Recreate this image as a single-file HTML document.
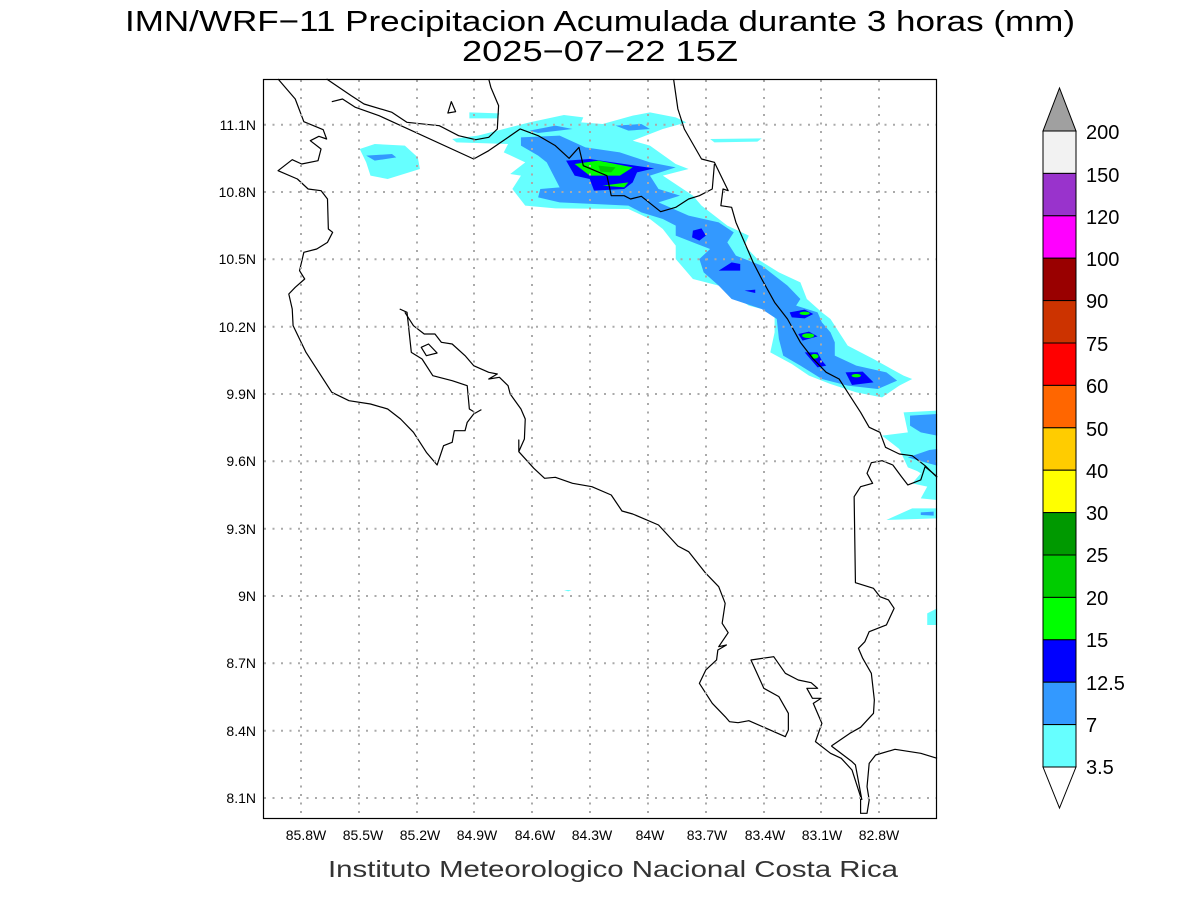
<!DOCTYPE html>
<html><head><meta charset="utf-8"><style>
html,body{margin:0;padding:0;background:#fff;}
svg{display:block;}
text{font-family:"Liberation Sans",sans-serif;}
</style></head><body>
<svg width="1200" height="900" viewBox="0 0 1200 900" xmlns="http://www.w3.org/2000/svg">
<rect width="1200" height="900" fill="#fff"/>
<text x="600" y="31" font-size="29" text-anchor="middle" textLength="950" lengthAdjust="spacingAndGlyphs">IMN/WRF−11 Precipitacion Acumulada durante 3 horas (mm)</text>
<text x="600" y="61" font-size="29" text-anchor="middle" textLength="276" lengthAdjust="spacingAndGlyphs">2025−07−22 15Z</text>

<!-- map, coords from zoom frame -->
<g transform="translate(263,79) scale(0.42992,0.33333)">
 <g stroke="none">
  <!-- cyan -->
  <g fill="#66ffff">
   <path d="M440,180 L500,170 560,150 620,130 700,108 745,115 740,130 790,135 860,110 900,100 960,115 985,130 930,150 860,185 900,200 960,255 990,270 930,290 1000,350 1020,380 1080,440 1130,470 1120,500 1150,540 1200,580 1250,610 1265,660 1300,700 1320,720 1340,760 1360,800 1420,840 1490,890 1510,900 1480,920 1440,955 1380,940 1320,915 1270,890 1230,855 1180,820 1190,760 1190,700 1130,680 1060,620 1000,600 960,540 960,500 930,450 900,420 850,390 680,388 610,380 580,330 600,290 575,285 610,250 560,220 570,195 450,190Z"/>
   <path d="M225,210 L260,195 330,200 360,235 365,270 290,300 250,290 240,250Z"/>
   <path d="M480,100 L550,103 545,118 480,118Z"/>
   <path d="M1040,180 L1160,178 1150,188 1050,190Z"/>
   <path d="M1490,1000 L1568,995 1568,1200 1500,1165 1480,1110 1440,1070 1500,1060Z"/>
   <path d="M1475,1103 L1520,1093 1568,1083 1568,1263 1530,1258 1545,1223 1510,1213 1530,1183 1500,1158 1490,1123Z"/>
   <path d="M1450,1323 L1510,1288 1568,1288 1568,1318Z"/>
   <path d="M1545,1603 L1568,1588 1568,1638 1545,1638Z"/>
   <path d="M700,1533 L718,1533 710,1537Z"/>
  </g>
  <g fill="#3399ff">
   <path d="M600,175 L690,170 750,205 830,220 900,250 960,265 900,290 920,330 970,350 920,370 990,410 1060,430 1095,460 1080,490 1100,530 1160,560 1220,620 1250,660 1240,680 1290,700 1300,730 1320,760 1330,790 1330,830 1380,860 1450,880 1475,905 1430,930 1360,920 1300,900 1250,860 1210,830 1200,780 1195,720 1160,690 1090,660 1060,620 1025,580 1015,540 1040,510 1000,490 960,470 960,440 930,420 880,400 850,380 690,370 640,355 645,330 690,325 660,250 640,230 600,200Z"/>
   <path d="M240,230 L300,225 310,235 260,245Z"/>
   <path d="M620,155 L680,140 720,150 640,162Z"/>
   <path d="M820,140 L880,135 900,150 850,155Z"/>
   <path d="M1505,1010 L1568,1005 1568,1070 1530,1060 1505,1040Z"/>
   <path d="M1500,1135 L1550,1113 1568,1110 1568,1160 1540,1150Z"/>
   <path d="M1530,1300 L1560,1298 1560,1310 1530,1308Z"/>
  </g>
  <g fill="#0000ff">
   <path d="M705,245 L760,240 840,255 910,268 870,280 860,310 840,330 770,335 760,300 725,290Z"/>
   <path d="M1000,455 L1020,448 1030,470 1015,485 998,475Z"/>
   <path d="M1060,575 L1090,550 1110,555 1110,575Z"/>
   <path d="M1120,635 L1145,632 1145,642Z"/>
   <path d="M1225,700 L1260,692 1280,705 1260,718 1230,715Z"/>
   <path d="M1245,765 L1270,758 1290,772 1255,785Z"/>
   <path d="M1260,820 L1290,820 1300,845 1310,860 1290,865Z"/>
   <path d="M1355,880 L1395,878 1420,910 1370,918Z"/>
  </g>
  <g fill="#00ff00">
   <path d="M725,255 L780,245 860,265 830,290 760,290Z"/>
   <path d="M790,320 L850,310 840,325Z"/>
   <ellipse cx="1260" cy="703" rx="12" ry="5"/>
   <ellipse cx="1268" cy="770" rx="14" ry="7"/>
   <ellipse cx="1283" cy="832" rx="9" ry="7"/>
   <ellipse cx="1380" cy="890" rx="11" ry="5"/>
  </g>
  <path fill="#00cc00" d="M780,260 L820,265 810,280 785,278Z"/>
 </g>
 <!-- grid -->
 <g stroke="#aaaaaa" stroke-width="2" stroke-dasharray="0.1 13" stroke-linecap="round" vector-effect="non-scaling-stroke" fill="none">
 </g>
 <!-- coastlines -->
 <g fill="none" stroke="#000" stroke-width="1.2" vector-effect="non-scaling-stroke" stroke-linejoin="round">
  <polyline vector-effect="non-scaling-stroke" points="35,0 75,60 95,128 140,152 148,180 130,172 110,185 135,210 128,245 90,255 68,242 35,275 80,300 105,330 135,335 150,360 152,450 162,460 150,490 125,510 95,520 85,575 97,600 75,625 60,645 68,690 70,740 100,820 130,880 160,940 200,965 250,975 290,990 320,1020 350,1060 380,1120 405,1158 420,1100 440,1090 445,1055 470,1055 475,1030 490,1005 508,992"/>
  <polyline vector-effect="non-scaling-stroke" points="318,690 335,700 345,820 370,840 395,890 440,905 475,920 480,990 490,998"/>
  <polyline vector-effect="non-scaling-stroke" points="330,700 350,740 375,765 400,765 415,790 440,795 470,830 490,860 525,880 545,885 525,900 550,895 570,920 575,945 600,990 610,1020 608,1080 595,1118 595,1083 595,1118 630,1168 655,1198 680,1195 720,1213 765,1223 810,1248 835,1296 860,1305 920,1338 965,1401 990,1418 1030,1483 1060,1523 1075,1573 1068,1633 1082,1661 1060,1703 1078,1698 1058,1713 1055,1743 1030,1773 1015,1813 1045,1873 1075,1913 1085,1928 1105,1931 1130,1925 1215,1973 1222,1953 1222,1903 1200,1853 1165,1828 1135,1743 1188,1733 1215,1783 1245,1803 1275,1811 1290,1828 1265,1828 1278,1858 1298,1858 1280,1873 1300,1933 1285,1988 1320,2023 1345,2038 1370,2073 1390,2153 1390,2203 1405,2203 1410,2163 1405,2123 1410,2053 1425,2028 1470,2011 1530,2023 1568,2038"/>
  <polyline vector-effect="non-scaling-stroke" points="1322,2001 1370,2048 1378,2058 1393,2163"/>
  <polyline vector-effect="non-scaling-stroke" points="1322,2001 1365,1963 1390,1945 1420,1903 1422,1863 1415,1783 1395,1738 1385,1708 1400,1688 1410,1658 1450,1638 1468,1588 1455,1563 1435,1553 1420,1528 1378,1511 1375,1253 1390,1223 1418,1213 1405,1183 1415,1151 1440,1145 1465,1158 1485,1193 1500,1218 1530,1203 1540,1163 1568,1193"/>
  <polyline vector-effect="non-scaling-stroke" points="955,0 965,90 980,150 1020,240 1050,250 1065,290 1082,335 1070,330 1065,380 1090,385 1100,430 1120,490 1140,550 1160,600 1190,670 1220,720 1250,790 1280,840 1310,880 1340,900 1365,950 1390,1000 1410,1045 1435,1060 1448,1105 1480,1125 1510,1130 1540,1160 1568,1195"/>
  <polyline vector-effect="non-scaling-stroke" points="148,0 205,50 235,75 300,100 335,130 410,140 455,170 495,182 525,175 545,150 548,80 530,25 525,0"/>
  <polyline vector-effect="non-scaling-stroke" points="160,68 185,60 215,85 270,110 490,240 525,215 570,175 598,150 640,170 680,200 712,238 735,205 745,260 800,290 810,350 840,350 855,360 880,352 925,398 960,385 990,360 1015,350 1045,330 1050,255"/>
  <polygon vector-effect="non-scaling-stroke" points="430,102 438,68 448,98"/>
  <polygon vector-effect="non-scaling-stroke" points="368,805 385,795 405,822 380,830"/>
 </g>
</g>
<!-- gridlines -->
<g stroke="#aaa" stroke-width="2" stroke-dasharray="2 6.5" fill="none">
 <path d="M301,80V818 M359,80V818 M417,80V818 M474,80V818 M532,80V818 M590,80V818 M648,80V818 M706,80V818 M764,80V818 M821,80V818 M879,80V818"/>
 <path d="M264,124.7H936 M264,192H936 M264,259.3H936 M264,326.7H936 M264,394H936 M264,461.3H936 M264,528.7H936 M264,596H936 M264,663.3H936 M264,730.7H936 M264,798H936"/>
</g>
<rect x="263.5" y="79.5" width="673" height="739" fill="none" stroke="#000" stroke-width="1.2"/>
<!-- axes labels -->
<g font-size="14" text-anchor="end">
 <text x="256" y="130">11.1N</text><text x="256" y="197">10.8N</text><text x="256" y="264">10.5N</text>
 <text x="256" y="332">10.2N</text><text x="256" y="399">9.9N</text><text x="256" y="466">9.6N</text>
 <text x="256" y="534">9.3N</text><text x="256" y="601">9N</text><text x="256" y="668">8.7N</text>
 <text x="256" y="736">8.4N</text><text x="256" y="803">8.1N</text>
</g>
<g font-size="14" text-anchor="middle">
 <text x="306" y="840">85.8W</text><text x="363" y="840">85.5W</text><text x="420" y="840">85.2W</text>
 <text x="477" y="840">84.9W</text><text x="535" y="840">84.6W</text><text x="592" y="840">84.3W</text>
 <text x="650" y="840">84W</text><text x="707" y="840">83.7W</text><text x="765" y="840">83.4W</text>
 <text x="822" y="840">83.1W</text><text x="879" y="840">82.8W</text>
</g>
<text x="613" y="877" font-size="23" text-anchor="middle" fill="#333" textLength="570" lengthAdjust="spacingAndGlyphs">Instituto Meteorologico Nacional Costa Rica</text>
<!-- colorbar -->
<g stroke="#000" stroke-width="1">
 <polygon points="1043,131 1076,131 1059.5,88" fill="#a0a0a0"/>
 <rect x="1043" y="131" width="33" height="42.4" fill="#f2f2f2"/>
 <rect x="1043" y="173.4" width="33" height="42.4" fill="#9933cc"/>
 <rect x="1043" y="215.8" width="33" height="42.4" fill="#ff00ff"/>
 <rect x="1043" y="258.2" width="33" height="42.4" fill="#990000"/>
 <rect x="1043" y="300.6" width="33" height="42.4" fill="#cc3300"/>
 <rect x="1043" y="343" width="33" height="42.4" fill="#ff0000"/>
 <rect x="1043" y="385.4" width="33" height="42.4" fill="#ff6600"/>
 <rect x="1043" y="427.8" width="33" height="42.4" fill="#ffcc00"/>
 <rect x="1043" y="470.2" width="33" height="42.4" fill="#ffff00"/>
 <rect x="1043" y="512.6" width="33" height="42.4" fill="#009900"/>
 <rect x="1043" y="555" width="33" height="42.4" fill="#00cc00"/>
 <rect x="1043" y="597.4" width="33" height="42.4" fill="#00ff00"/>
 <rect x="1043" y="639.8" width="33" height="42.4" fill="#0000ff"/>
 <rect x="1043" y="682.2" width="33" height="42.4" fill="#3399ff"/>
 <rect x="1043" y="724.6" width="33" height="42.4" fill="#66ffff"/>
 <polygon points="1043,767 1076,767 1059.5,808" fill="#fff"/>
</g>
<g font-size="20">
 <text x="1086" y="139">200</text><text x="1086" y="182">150</text><text x="1086" y="224">120</text>
 <text x="1086" y="266">100</text><text x="1086" y="308">90</text><text x="1086" y="351">75</text>
 <text x="1086" y="393">60</text><text x="1086" y="436">50</text><text x="1086" y="478">40</text>
 <text x="1086" y="520">30</text><text x="1086" y="562">25</text><text x="1086" y="605">20</text>
 <text x="1086" y="647">15</text><text x="1086" y="690">12.5</text><text x="1086" y="732">7</text>
 <text x="1086" y="774">3.5</text>
</g>
</svg>
</body></html>
